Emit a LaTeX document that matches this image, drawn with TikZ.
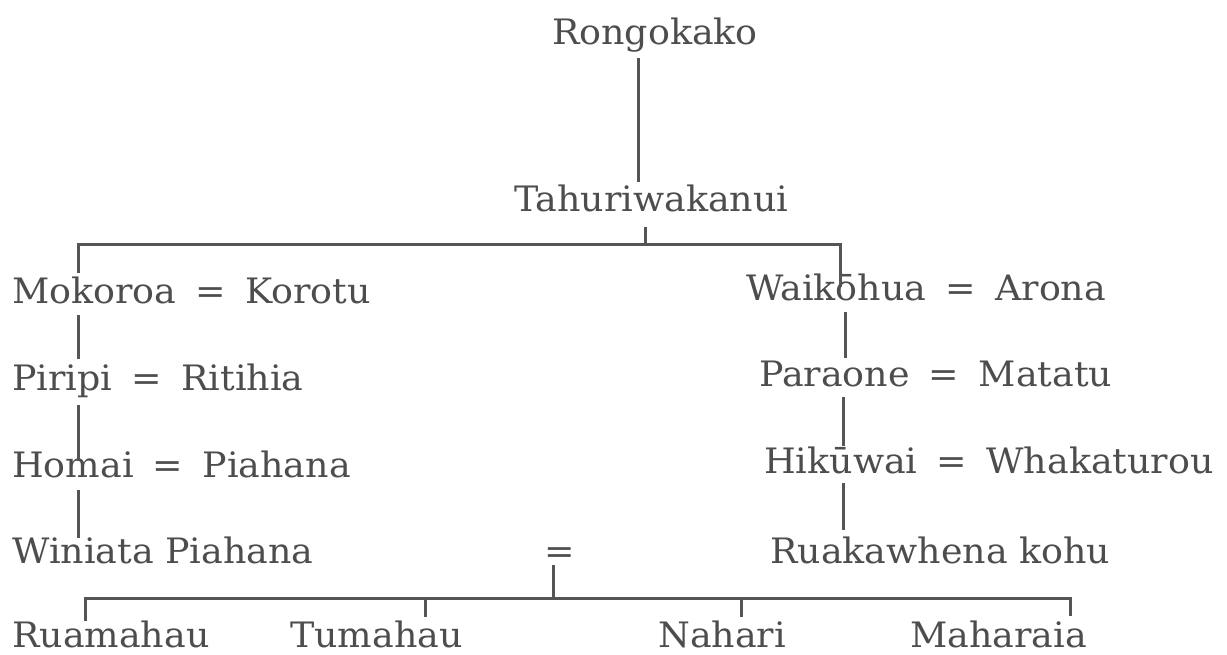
\documentclass[tikz,border=0pt]{standalone}
\usepackage{fontspec}
\setmainfont{DejaVu Serif}[FakeStretch=1.04]
\usetikzlibrary{calc}
\definecolor{txt}{HTML}{4D4D4D}
\definecolor{ln}{HTML}{555555}
\newcommand\eqsign{\hspace{0.55em}=\hspace{0.55em}}
\tikzset{
  person/.style={anchor=base west, inner sep=0pt, text=txt, font=\fontsize{35}{40}\selectfont},
  link/.style={draw=ln, line width=3pt}
}
\begin{document}
\begin{tikzpicture}[x=1pt,y=-1pt]
\useasboundingbox[fill=white] (0,0) rectangle (1227,655);
% people
\node[person] (rong) at (552,45) {Rongokako};
\node[person] (tah) at (514,212) {Tahuriwakanui};
\node[person] (mok) at (12,303) {Mokoroa\eqsign Korotu};
\node[person] (wai) at (746,301) {Waikōhua\eqsign Arona};
\node[person] (pir) at (12,390) {Piripi\eqsign Ritihia};
\node[person] (par) at (759,386) {Paraone\eqsign Matatu};
\node[person] (hom) at (12,477) {Homai\eqsign Piahana};
\node[person] (hik) at (764,473) {Hikūwai\eqsign Whakaturou};
\node[person] (win) at (12,563) {Winiata Piahana};
\node[person] (eq) at (544,563) {=};
\node[person] (rua) at (770,563) {Ruakawhena kohu};
\node[person] (ruam) at (12,647) {Ruamahau};
\node[person] (tum) at (290,647) {Tumahau};
\node[person] (nah) at (658,647) {Nahari};
\node[person] (mah) at (910,647) {Maharaia};
% junctions
\coordinate (bar1) at (645,245);
\coordinate (bar2) at (553,598);
% connectors
\draw[link] ($(rong.base -| 638,0)+(0,13)$) -- ($(tah.base -| 638,0)+(0,-30)$);
\draw[link] ($(tah.base -| bar1)+(0,15)$) -- (bar1);
\draw[link] ($(mok.base -| 78,0)+(0,-30)$) |- (bar1) -| ($(wai.base -| 840,0)+(0,-14)$);
\draw[link] ($(mok.base -| 78,0)+(0,12)$) -- ($(pir.base -| 78,0)+(0,-31)$);
\draw[link] ($(pir.base -| 78,0)+(0,15)$) -- ($(hom.base -| 78,0)+(0,-16)$);
\draw[link] ($(hom.base -| 78,0)+(0,13)$) -- ($(win.base -| 78,0)+(0,-25)$);
\draw[link] ($(wai.base -| 845,0)+(0,11)$) -- ($(par.base -| 845,0)+(0,-28)$);
\draw[link] ($(par.base -| 843,0)+(0,11)$) -- ($(hik.base -| 843,0)+(0,-27)$);
\draw[link] ($(hik.base -| 843,0)+(0,10)$) -- ($(rua.base -| 843,0)+(0,-33)$);
\draw[link] ($(eq.base -| bar2)+(0,2)$) -- (bar2);
\draw[link] ($(ruam.base -| 85,0)+(0,-26)$) |- (bar2) -| ($(mah.base -| 1070,0)+(0,-31)$);
\draw[link] (bar2 -| 425,0) -- ($(tum.base -| 425,0)+(0,-30)$);
\draw[link] (bar2 -| 741,0) -- ($(nah.base -| 741,0)+(0,-30)$);
\end{tikzpicture}
\end{document}
